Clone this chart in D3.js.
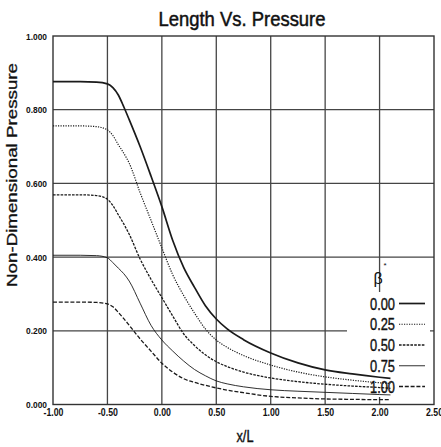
<!DOCTYPE html>
<html>
<head>
<meta charset="utf-8">
<script src="https://cdn.jsdelivr.net/npm/d3@7"></script>
<style>
  html, body { margin: 0; padding: 0; background: #fff; }
  svg { display: block; }
  text { font-family: "Liberation Sans Narrow", "Arial Narrow", "Liberation Sans", Arial, sans-serif; fill: #111; }
</style>
</head>
<body>
<svg id="chart" width="441" height="447"></svg>
<script>
// Sample positions along the duct (x/L)
const xs = [-1.0, -0.75, -0.6, -0.5, -0.45, -0.4, -0.35, -0.3, -0.2, -0.1, 0.0, 0.1, 0.2, 0.3, 0.4, 0.5, 0.6, 0.75, 1.0, 1.25, 1.5, 1.75, 2.0, 2.1];

// Non-dimensional pressure for each beta*
const p000 = [0.876, 0.876, 0.875, 0.870, 0.860, 0.840, 0.808, 0.773, 0.700, 0.620, 0.537, 0.445, 0.372, 0.318, 0.268, 0.232, 0.205, 0.176, 0.140, 0.113, 0.094, 0.083, 0.074, 0.071];
const p025 = [0.756, 0.756, 0.754, 0.745, 0.730, 0.705, 0.682, 0.655, 0.575, 0.500, 0.425, 0.352, 0.296, 0.248, 0.205, 0.175, 0.155, 0.133, 0.107, 0.088, 0.075, 0.066, 0.059, 0.057];
const p050 = [0.569, 0.569, 0.567, 0.557, 0.540, 0.515, 0.490, 0.462, 0.395, 0.340, 0.290, 0.240, 0.192, 0.160, 0.135, 0.116, 0.103, 0.088, 0.072, 0.062, 0.055, 0.050, 0.046, 0.044];
const p075 = [0.405, 0.405, 0.404, 0.398, 0.385, 0.370, 0.355, 0.335, 0.275, 0.215, 0.175, 0.145, 0.118, 0.095, 0.078, 0.064, 0.056, 0.048, 0.040, 0.036, 0.033, 0.030, 0.027, 0.026];
const p100 = [0.278, 0.278, 0.277, 0.273, 0.265, 0.250, 0.233, 0.215, 0.178, 0.145, 0.112, 0.088, 0.070, 0.060, 0.052, 0.045, 0.039, 0.032, 0.022, 0.018, 0.015, 0.014, 0.013, 0.013];

const betaLabels = ["0.00", "0.25", "0.50", "0.75", "1.00"];
const xTicks = [-1.0, -0.5, 0.0, 0.5, 1.0, 1.5, 2.0, 2.5];
const xTickLabels = ["-1.00", "-0.50", "0.00", "0.50", "1.00", "1.50", "2.00", "2.50"];
const yTicks = [0.0, 0.2, 0.4, 0.6, 0.8, 1.0];
const yTickLabels = ["0.000", "0.200", "0.400", "0.600", "0.800", "1.000"];

const seriesValues = [p000, p025, p050, p075, p100];
const lineStyles = [
  { width: 1.7, dash: null },
  { width: 1.2, dash: "1.2,1.3" },
  { width: 1.3, dash: "2.6,1.2" },
  { width: 0.9, dash: null },
  { width: 1.3, dash: "4,1.8" }
];

const svg = d3.select("#chart");
const x = d3.scaleLinear().domain([-1, 2.5]).range([53, 434]);
const y = d3.scaleLinear().domain([0, 1]).range([404.5, 36]);

const gridColor = "#454545";

// Grid
const grid = svg.append("g");
grid.selectAll("line.v")
  .data(xTicks.slice(1, -1))
  .join("line")
  .attr("x1", d => x(d)).attr("x2", d => x(d))
  .attr("y1", y(0)).attr("y2", y(1))
  .attr("stroke", gridColor).attr("stroke-width", 1.3);
grid.selectAll("line.h")
  .data(yTicks.slice(1, -1))
  .join("line")
  .attr("x1", x(-1)).attr("x2", x(2.5))
  .attr("y1", d => y(d)).attr("y2", d => y(d))
  .attr("stroke", gridColor).attr("stroke-width", 1.3);

// Frame
svg.append("rect")
  .attr("x", x(-1)).attr("y", y(1))
  .attr("width", x(2.5) - x(-1)).attr("height", y(0) - y(1))
  .attr("fill", "none").attr("stroke", "#333").attr("stroke-width", 1.4);

// Legend background covers the grid in the lower right
svg.append("rect")
  .attr("x", 347).attr("y", 292)
  .attr("width", 83).attr("height", 105)
  .attr("fill", "#fff");

// Axes (labels only)
const xAxis = d3.axisBottom(x).tickValues(xTicks).tickSize(0).tickPadding(0)
  .tickFormat((d, i) => xTickLabels[i]);
const gx = svg.append("g").attr("transform", `translate(0,${y(0) + 11})`).call(xAxis);
gx.select(".domain").remove();
gx.selectAll("text")
  .attr("font-family", "'Liberation Sans Narrow','Arial Narrow','Liberation Sans',Arial,sans-serif")
  .attr("font-size", 10).attr("font-weight", "bold").attr("fill", "#111")
  .attr("dy", "0")
  .attr("textLength", (d, i) => i === 0 || i === 1 ? 20 : 17)
  .attr("lengthAdjust", "spacingAndGlyphs");

const yAxis = d3.axisLeft(y).tickValues(yTicks).tickSize(0).tickPadding(6)
  .tickFormat((d, i) => yTickLabels[i]);
const gy = svg.append("g").attr("transform", `translate(${x(-1)},0)`).call(yAxis);
gy.select(".domain").remove();
gy.selectAll("text")
  .attr("font-family", "'Liberation Sans Narrow','Arial Narrow','Liberation Sans',Arial,sans-serif")
  .attr("font-size", 9.5).attr("font-weight", "bold").attr("fill", "#111")
  .attr("textLength", 21).attr("lengthAdjust", "spacingAndGlyphs");

// Curves
const line = d3.line()
  .x(d => x(d[0]))
  .y(d => y(d[1]))
  .curve(d3.curveMonotoneX);

seriesValues.forEach((vals, i) => {
  svg.append("path")
    .datum(xs.map((xv, j) => [xv, vals[j]]))
    .attr("d", line)
    .attr("fill", "none")
    .attr("stroke", "#1a1a1a")
    .attr("stroke-width", lineStyles[i].width)
    .attr("stroke-dasharray", lineStyles[i].dash);
});

// Title and axis titles (a thin outline thickens the strokes a little)
svg.append("text")
  .attr("x", 242).attr("y", 26)
  .attr("text-anchor", "middle")
  .attr("font-size", 21)
  .attr("stroke", "#111").attr("stroke-width", 0.5)
  .attr("textLength", 167).attr("lengthAdjust", "spacingAndGlyphs")
  .text("Length Vs. Pressure");

svg.append("text")
  .attr("x", 245).attr("y", 442)
  .attr("text-anchor", "middle")
  .attr("font-size", 16)
  .attr("stroke", "#111").attr("stroke-width", 0.4)
  .attr("textLength", 17).attr("lengthAdjust", "spacingAndGlyphs")
  .text("x/L");

svg.append("text")
  .attr("transform", "translate(17,175) rotate(-90)")
  .attr("text-anchor", "middle")
  .attr("font-family", "'Liberation Sans', Arial, sans-serif")
  .attr("font-size", 15)
  .attr("stroke", "#111").attr("stroke-width", 0.3)
  .attr("textLength", 224).attr("lengthAdjust", "spacingAndGlyphs")
  .text("Non-Dimensional Pressure");

// Legend
const legend = svg.append("g");
legend.append("text")
  .attr("x", 378).attr("y", 284)
  .attr("text-anchor", "middle")
  .attr("font-family", "'DejaVu Sans', sans-serif")
  .attr("font-size", 16)
  .text("β");
legend.append("text")
  .attr("x", 385).attr("y", 268)
  .attr("text-anchor", "middle")
  .attr("font-size", 8)
  .text("*");

const legendY = d3.scalePoint().domain(betaLabels).range([303.5, 386.5]);
betaLabels.forEach((lab, i) => {
  const cy = legendY(lab);
  legend.append("text")
    .attr("x", 395).attr("y", cy + 6)
    .attr("text-anchor", "end")
    .attr("font-size", 17)
    .attr("stroke", "#111").attr("stroke-width", 0.4)
    .attr("textLength", 25).attr("lengthAdjust", "spacingAndGlyphs")
    .text(lab);
  legend.append("line")
    .attr("x1", 399).attr("x2", 425)
    .attr("y1", cy).attr("y2", cy)
    .attr("stroke", "#1a1a1a")
    .attr("stroke-width", lineStyles[i].width)
    .attr("stroke-dasharray", lineStyles[i].dash);
});
</script>
</body>
</html>
